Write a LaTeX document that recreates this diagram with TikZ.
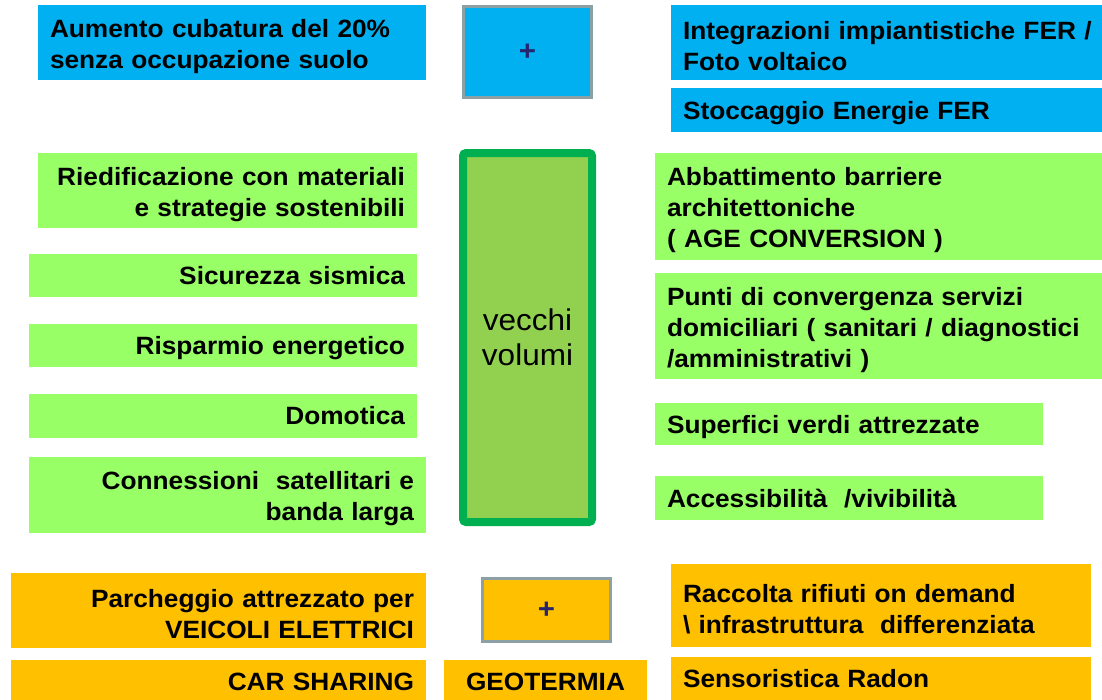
\documentclass[tikz,border=0pt]{standalone}
\usepackage{fontspec}
\setmainfont{Liberation Sans}[FakeStretch=1.05]
\usepackage{tikz}
\usetikzlibrary{positioning}
\definecolor{celeste}{RGB}{0,176,240}
\definecolor{prato}{RGB}{153,255,102}
\definecolor{oliva}{RGB}{146,208,80}
\definecolor{smeraldo}{RGB}{0,176,80}
\definecolor{arancio}{RGB}{255,192,0}
\definecolor{ardesia}{RGB}{140,160,166}
\definecolor{notte}{RGB}{38,38,110}

\begin{document}
\begin{tikzpicture}[x=1pt, y=-1pt,
    cell/.style={inner xsep=12pt, inner ysep=0pt,
      font=\bfseries\fontsize{25}{31}\selectfont},
    dx/.style={cell, align=left},
    sx/.style={cell, align=right},
    wh/.style 2 args={minimum width=#1pt, minimum height=#2pt,
      /utils/exec={\pgfmathsetlengthmacro\cellw{#1pt-24pt}}, text width=\cellw},
    righe/.style={execute at begin node={\rule{0pt}{26pt}}},
    riga/.style={text height=18pt, text depth=0pt},
    piu/.style={draw=ardesia, line width=3pt, text=notte,
      font=\bfseries\fontsize{28}{30}\selectfont}]
  \useasboundingbox (0,0) rectangle (1102,699);

  \node[dx, righe, fill=celeste, wh={388}{75}] (aumento) at (232,42.5)   {Aumento cubatura del 20\%\\senza occupazione suolo};
  \node[piu, fill=celeste, minimum width=128pt, minimum height=91pt] (piu1) at (527.5,52) {+};
  \node[dx, righe, fill=celeste, wh={431}{75}] (integr)  at (886.5,42.5) {\mbox{Integrazioni impiantistiche FER /}\\Foto voltaico};
  \node[dx, riga, fill=celeste, wh={431}{44}] (stocc)   [below=8pt of integr] {Stoccaggio Energie FER};

  \node[sx, righe, fill=prato, wh={379}{75}] (riedif)  at (227.5,190.5) {Riedificazione con materiali\\e strategie sostenibili};
  \node[sx, riga, fill=prato, wh={388}{43}] (sicur)   at (223,275.5)   {Sicurezza sismica};
  \node[sx, riga, fill=prato, wh={388}{43}] (rispar)  [below=27pt of sicur]  {Risparmio energetico};
  \node[sx, riga, fill=prato, wh={388}{44}] (domot)   [below=26pt of rispar] {Domotica};
  \node[sx, righe, fill=prato, wh={397}{76}] (connes)  at (227.5,495)   {Connessioni~ satellitari e\\banda larga};

  \node[draw=smeraldo, line width=8pt, fill=oliva, rounded corners=3pt,
        minimum width=129pt, minimum height=369pt, align=center,
        font=\fontsize{30}{35}\selectfont] (vecchi) at (527.5,337.5) {vecchi\\volumi};

  \node[dx, righe, fill=prato, wh={447}{107}] (abbatt) at (878.5,206.5) {Abbattimento barriere\\architettoniche\\( AGE CONVERSION )};
  \node[dx, righe, fill=prato, wh={447}{106}] (punti)  [below=13pt of abbatt] {Punti di convergenza servizi\\domiciliari ( sanitari / diagnostici\\/amministrativi )};
  \node[dx, riga, fill=prato, wh={388}{42}]  (superf) at (849,424) {Superfici verdi attrezzate};
  \node[dx, riga, fill=prato, wh={388}{44}]  (access) [below=31pt of superf] {Accessibilità~ /vivibilità};

  \node[sx, righe, fill=arancio, wh={415}{75}] (parch)  at (218.5,610.5) {Parcheggio attrezzato per\\VEICOLI ELETTRICI};
  \node[piu, fill=arancio, minimum width=128pt, minimum height=63pt] (piu2) at (546.5,610) {+};
  \node[dx, righe, fill=arancio, wh={420}{83}] (raccol) at (881,605.5) {Raccolta rifiuti on demand\\\textbackslash{} infrastruttura~ differenziata};
  \node[sx, riga, fill=arancio, wh={415}{42}] (carsh)  at (218.5,681) {CAR SHARING};
  \node[cell, riga, fill=arancio, align=center, minimum width=203pt, minimum height=42pt] (geoterm) at (545.5,681) {GEOTERMIA};
  \node[dx, riga, fill=arancio, wh={420}{43}] (sensor) [below=10pt of raccol] {Sensoristica Radon};
\end{tikzpicture}
\end{document}
